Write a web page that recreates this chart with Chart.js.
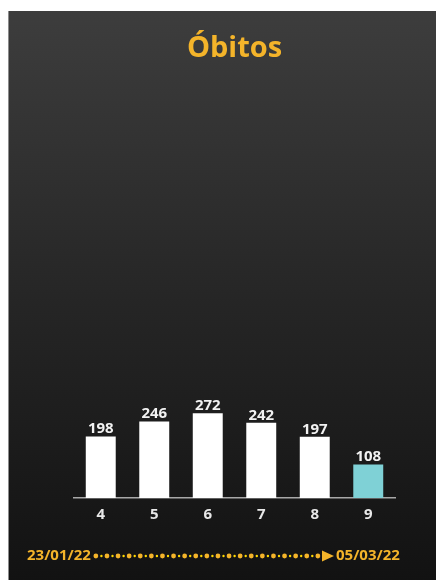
<!DOCTYPE html>
<html>
<head>
<meta charset="utf-8">
<script src="https://cdn.jsdelivr.net/npm/chart.js@4.4.0/dist/chart.umd.min.js"></script>
<style>
  html, body { margin: 0; background: #fff; }
  #wrap { position: absolute; left: 8px; top: 11px; width: 428px; height: 569px; }
</style>
</head>
<body>
<div id="wrap"><canvas id="obitos" width="428" height="569"></canvas></div>
<script>
const weeks = ["4", "5", "6", "7", "8", "9"];
const deaths = [198, 246, 272, 242, 197, 108];
const barColors = ["#ffffff", "#ffffff", "#ffffff", "#ffffff", "#ffffff", "#7fd1d6"];
const startDate = "23/01/22";
const endDate = "05/03/22";

const gold = "#f4b42a";
const font = "'Open Sans', sans-serif";

// dark gradient panel behind everything
const panelBg = {
  id: "panelBg",
  beforeDraw(chart) {
    const { ctx, width, height } = chart;
    const g = ctx.createLinearGradient(0, 0, 0, height);
    g.addColorStop(0, "#3d3d3d");
    g.addColorStop(0.5, "#262626");
    g.addColorStop(1, "#121212");
    ctx.save();
    ctx.fillStyle = g;
    ctx.fillRect(0, 0, width, height);
    ctx.fillStyle = "#8c8c8c";
    ctx.fillRect(0, 0, 1, height);
    ctx.restore();
  }
};

// numbers above the bars
const valueLabels = {
  id: "valueLabels",
  afterDatasetsDraw(chart) {
    const { ctx } = chart;
    const meta = chart.getDatasetMeta(0);
    ctx.save();
    ctx.font = "bold 15px " + font;
    ctx.fillStyle = "#f2f2f2";
    ctx.textAlign = "center";
    ctx.textBaseline = "alphabetic";
    meta.data.forEach((bar, i) => {
      ctx.fillText(deaths[i], bar.x, bar.y - 3);
    });
    ctx.restore();
  }
};

// date range with dotted arrow at the bottom
const dateRange = {
  id: "dateRange",
  afterDraw(chart) {
    const { ctx } = chart;
    const y = 545;
    ctx.save();
    ctx.font = "bold 15px " + font;
    ctx.fillStyle = gold;
    ctx.textBaseline = "middle";
    ctx.textAlign = "left";
    const x0 = 19;
    ctx.fillText(startDate, x0, y);
    const startEnd = x0 + ctx.measureText(startDate).width;
    const x1 = 328;
    ctx.fillText(endDate, x1, y);

    const arrowEnd = x1 - 2;
    const arrowStart = arrowEnd - 12;
    const step = 11.1;
    let x = startEnd + 5;
    while (x < arrowStart - 3) {
      ctx.fillStyle = gold;
      ctx.beginPath();
      ctx.arc(x, y, 2.4, 0, Math.PI * 2);
      ctx.fill();
      if (x + step / 2 < arrowStart - 2) {
        ctx.fillStyle = "#ffd800";
        ctx.beginPath();
        ctx.arc(x + step / 2, y, 1.2, 0, Math.PI * 2);
        ctx.fill();
      }
      x += step;
    }
    ctx.fillStyle = gold;
    ctx.beginPath();
    ctx.moveTo(arrowStart, y - 5.5);
    ctx.lineTo(arrowEnd, y);
    ctx.lineTo(arrowStart, y + 5.5);
    ctx.closePath();
    ctx.fill();
    ctx.restore();
  }
};

new Chart(document.getElementById("obitos").getContext("2d"), {
  type: "bar",
  data: {
    labels: weeks,
    datasets: [
      {
        label: "Óbitos",
        data: deaths,
        backgroundColor: barColors,
        borderWidth: 0,
        categoryPercentage: 1,
        barPercentage: 0.56
      }
    ]
  },
  options: {
    responsive: false,
    animation: false,
    layout: {
      padding: { top: 0, left: 66, right: 41, bottom: 48 }
    },
    plugins: {
      legend: { display: false },
      tooltip: { enabled: false },
      title: {
        display: true,
        text: "Óbitos",
        color: gold,
        font: { family: font, size: 29, weight: "bold" },
        padding: { top: 20, bottom: 121 }
      }
    },
    scales: {
      x: {
        grid: { display: false, drawTicks: false },
        border: { display: true, color: "#a8a8a8", width: 1.5 },
        ticks: {
          color: "#e8e8e8",
          padding: 8,
          font: { family: font, size: 15, weight: "bold" }
        }
      },
      y: {
        display: false,
        min: 0,
        max: 1000
      }
    }
  },
  plugins: [panelBg, valueLabels, dateRange]
});
</script>
</body>
</html>
